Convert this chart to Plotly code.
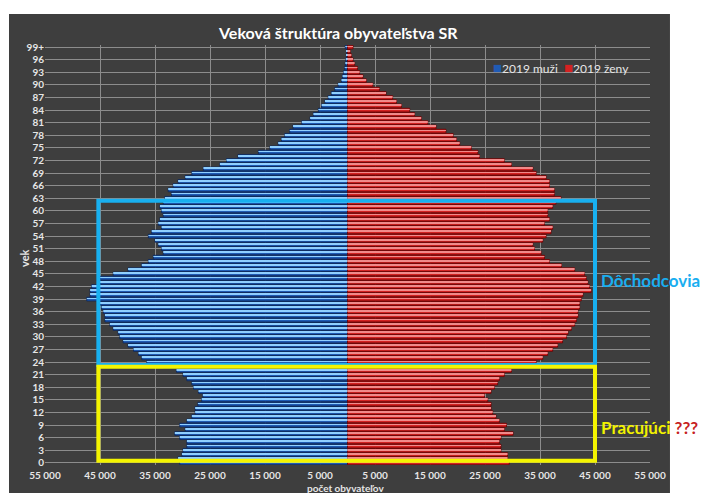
import plotly.graph_objects as go

ages = list(range(100))
tick_ages = list(range(0, 100, 3))
tick_age_labels = [str(a) for a in tick_ages[:-1]] + ["99+"]

men = [30500, 30800, 30100, 29900, 29200, 29200, 30500, 31400, 29500, 30500,
       29200, 28300, 27700, 27700, 27200, 26500, 26300, 27100, 28000, 28300,
       29200, 29900, 31100, 33500, 36500, 37400, 38000, 38900, 39900, 40800,
       41400, 41700, 42600, 43200, 44100, 44100, 44400, 44700, 45000, 47400,
       46800, 46800, 46500, 45000, 45000, 42600, 39900, 37400, 36200, 35300,
       33500, 33800, 34400, 35000, 36200, 35600, 33800, 34400, 34100, 33500,
       33800, 34100, 33500, 33200, 32000, 32600, 31700, 30800, 29500, 28300,
       26200, 23200, 22000, 19900, 16200, 14100, 12600, 12000, 11400, 10500,
       9900, 8300, 6800, 6200, 5300, 4700, 4100, 3500, 2900, 2300,
       1700, 1100, 900, 700, 500, 400, 300, 200, 150, 400]

women = [29400, 29100, 29100, 27900, 27900, 27600, 27900, 30100, 28500, 28900,
         27600, 27000, 26400, 26100, 26100, 25500, 24900, 26100, 26700, 27300,
         27600, 28500, 29800, 32200, 34300, 35500, 36400, 37300, 38200, 39100,
         39800, 40100, 40700, 41300, 41600, 41900, 41900, 42200, 42200, 42500,
         42800, 44300, 44000, 43700, 43400, 43100, 41300, 38900, 36700, 35800,
         35200, 34000, 33700, 35500, 36100, 37000, 37300, 35800, 36700, 36400,
         36400, 37300, 37900, 38800, 37600, 37600, 36700, 36700, 36100, 34300,
         33700, 29800, 28500, 24000, 23700, 22500, 20400, 19800, 19200, 17900,
         16100, 14600, 13400, 12200, 11300, 9800, 8900, 8200, 7000, 5800,
         4600, 3400, 2800, 2200, 1800, 1300, 1000, 700, 500, 1000]

series_names = ["2019 muži", "2019 ženy"]

x_ticks = list(range(-55000, 55001, 10000))
x_tick_labels = [f"{abs(v):,}".replace(",", " ") for v in x_ticks]

# annotation boxes (value / age units)
box_x0, box_x1 = -45300, 45000
pension_box = (23.3, 62.4)
worker_box = (0.5, 22.9)

BG = "#3e3e3e"
GRID = "#8c8c8c"
TXT = "#e6e6e6"
FONT = "Lato"
BLUE, BLUE_EDGE, BLUE_HI = "#1f5bb5", "#0a2558", "#8fcfff"
RED, RED_EDGE, RED_HI = "#d42222", "#6a0000", "#f08a8a"

fig = go.Figure()
men_neg = [-v for v in men]
fig.add_trace(go.Bar(y=ages, x=men_neg, orientation="h", name=series_names[0],
                     marker=dict(color=BLUE, line=dict(color=BLUE_EDGE, width=0.8)),
                     width=0.88, showlegend=False))
fig.add_trace(go.Bar(y=ages, x=women, orientation="h", name=series_names[1],
                     marker=dict(color=RED, line=dict(color=RED_EDGE, width=0.8)),
                     width=0.88, showlegend=False))
# highlight stripes for the 3D look
fig.add_trace(go.Bar(y=ages, x=men_neg, orientation="h", showlegend=False, hoverinfo="skip",
                     marker=dict(color=BLUE_HI, line=dict(width=0)), width=0.2, offset=0.04))
fig.add_trace(go.Bar(y=ages, x=women, orientation="h", showlegend=False, hoverinfo="skip",
                     marker=dict(color=RED_HI, line=dict(width=0)), width=0.2, offset=0.04))

shapes = [
    dict(type="rect", xref="paper", yref="paper", x0=-0.0595, x1=1.033, y0=-0.08, y1=1.074,
         fillcolor=BG, line=dict(width=0), layer="below"),
    dict(type="rect", xref="x", yref="y", x0=box_x0, x1=box_x1,
         y0=pension_box[0], y1=pension_box[1], line=dict(color="#18b0f0", width=4)),
    dict(type="rect", xref="x", yref="y", x0=box_x0, x1=box_x1,
         y0=worker_box[0], y1=worker_box[1], line=dict(color="#f4f400", width=4)),
]

legend_text = (f"<span style='color:{BLUE};font-size:15px'>■</span>{series_names[0]}  "
               f"<span style='color:{RED};font-size:15px'>■</span>{series_names[1]}")

annotations = [
    dict(text="<b>Veková štruktúra obyvateľstva SR</b>", xref="paper", yref="paper",
         x=0.484, y=1.029, yanchor="middle", showarrow=False,
         font=dict(family=FONT, size=16, color="#ffffff")),
    dict(text="<b>vek</b>", xref="paper", yref="paper", x=-0.047, y=0.493, textangle=-90,
         yanchor="middle", showarrow=False, font=dict(family=FONT, size=11, color=TXT)),
    dict(text="<b>počet obyvateľov</b>", xref="paper", yref="paper", x=0.496, y=-0.054,
         yanchor="middle", showarrow=False, font=dict(family=FONT, size=10, color=TXT)),
    dict(text="<b>Dôchodcovia</b>", xref="paper", yref="paper", x=0.915, y=0.44,
         xanchor="left", yanchor="middle", showarrow=False,
         font=dict(family=FONT, size=17, color="#1aaef0")),
    dict(text="<b>Pracujúci <span style='color:#c62020'>???</span></b>", xref="paper",
         yref="paper", x=0.915, y=0.09, xanchor="left", yanchor="middle", showarrow=False,
         font=dict(family=FONT, size=17, color="#f2f200")),
    dict(text=legend_text, xref="paper", yref="paper", x=0.738, y=0.947,
         xanchor="left", yanchor="middle", showarrow=False,
         font=dict(family=FONT, size=12, color=TXT)),
]

fig.update_layout(
    width=707, height=493,
    margin=dict(l=45, r=57, t=45, b=28),
    paper_bgcolor="#ffffff", plot_bgcolor="rgba(0,0,0,0)",
    barmode="overlay", bargap=0.1,
    shapes=shapes, annotations=annotations,
    showlegend=False,
    font=dict(family=FONT),
)
fig.update_xaxes(range=[-55000, 55000], tickvals=x_ticks, ticktext=x_tick_labels,
                 showgrid=True, gridcolor=GRID, gridwidth=1, zeroline=False,
                 tickfont=dict(family=FONT, size=10, color=TXT, weight="bold"),
                 ticks="", ticklabelstandoff=3, fixedrange=True)
fig.update_yaxes(range=[-0.5, 99.5], tickvals=tick_ages, ticktext=tick_age_labels,
                 showgrid=True, gridcolor=GRID, gridwidth=1, zeroline=False,
                 tickfont=dict(family=FONT, size=10, color=TXT, weight="bold"),
                 ticks="", fixedrange=True)

fig.write_html("out.html", config={"displayModeBar": False},
               post_script="document.body.style.margin='0px';")
